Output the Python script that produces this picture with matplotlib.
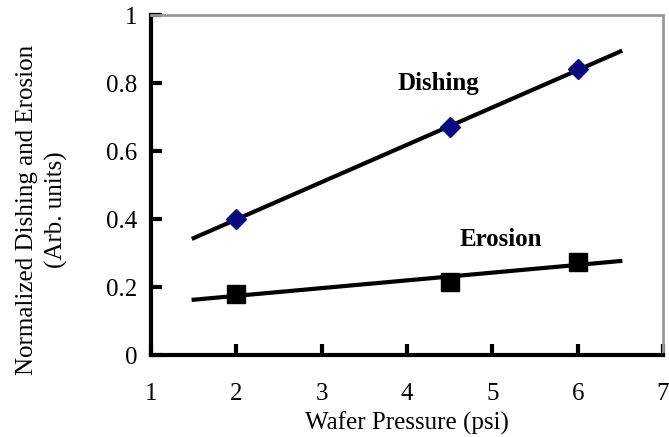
import numpy as np
import matplotlib
matplotlib.use('Agg')
import matplotlib.pyplot as plt

plt.rcParams['font.family'] = ['Liberation Serif', 'DejaVu Serif']

pressure = [2, 4.5, 6]
dishing = [0.40, 0.67, 0.84]
erosion = [0.18, 0.215, 0.275]
x_ticks = [1, 2, 3, 4, 5, 6, 7]
y_ticks = [0, 0.2, 0.4, 0.6, 0.8, 1]
y_tick_labels = ['0', '0.2', '0.4', '0.6', '0.8', '1']

fig = plt.figure(figsize=(6.69, 4.37), dpi=100)
ax = fig.add_axes([0.2257, 0.1876, 0.7653, 0.778])

# linear fits drawn over 1.5-6.5 psi
xfit = np.array([1.5, 6.5])
pd_ = np.polyfit(pressure, dishing, 1)
pe = np.polyfit(pressure, erosion, 1)
ax.plot(xfit, np.polyval(pd_, xfit), color='black', lw=3, zorder=2)
ax.plot(xfit, np.polyval(pe, xfit), color='black', lw=3, zorder=2)

ax.plot(pressure, dishing, linestyle='none', marker='D', ms=10, color='#0a0a80', zorder=3)
ax.plot(pressure, erosion, linestyle='none', marker='s', ms=12.5, color='black', zorder=3)

ax.text(4.37, 0.80, 'Dishing', fontsize=18, fontweight='bold', ha='center', va='center')
ax.text(5.10, 0.34, 'Erosion', fontsize=18, fontweight='bold', ha='center', va='center')

ax.set_xlim(1, 7)
ax.set_ylim(0, 1)
ax.set_xticks(x_ticks)
ax.set_yticks(y_ticks)
ax.set_yticklabels(y_tick_labels)
ax.tick_params(direction='in', length=8, width=3, labelsize=18, color='black')
ax.tick_params(axis='x', pad=20)
ax.tick_params(axis='y', pad=10)

for s in ['left', 'bottom']:
    ax.spines[s].set_linewidth(3)
    ax.spines[s].set_color('black')
for s in ['top', 'right']:
    ax.spines[s].set_linewidth(2)
    ax.spines[s].set_color('#999999')

ax.set_xlabel('Wafer Pressure (psi)', fontsize=18, labelpad=5)
ax.set_ylabel('Normalized Dishing and Erosion\n(Arb. units)', fontsize=18, linespacing=1.4)
ax.yaxis.set_label_coords(-0.162, 0.426)

fig.savefig('out.png', dpi=100)
